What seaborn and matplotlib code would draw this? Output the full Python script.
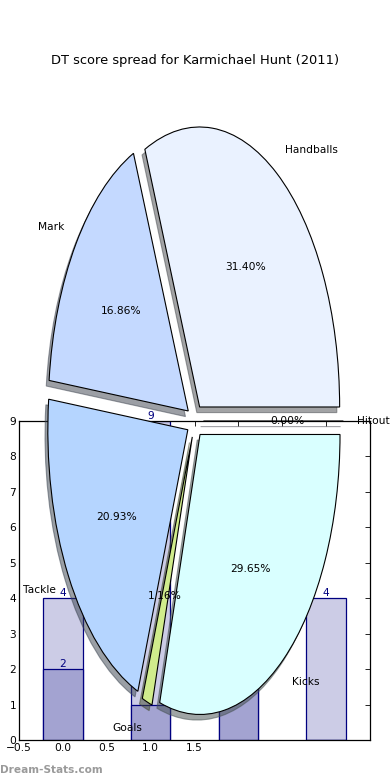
import numpy as np
import matplotlib
matplotlib.use("Agg")
import matplotlib.pyplot as plt
import seaborn as sns

# ─── Données ────────────────────────────────────────────────────────────────
pie_labels = ["Handballs", "Mark", "Tackle", "Goals", "Kicks", "Hitout"]
pie_share = [31.40, 16.86, 20.93, 1.16, 29.65, 0.00]
pie_colors = ["#eaf2ff", "#c4d9ff", "#b5d5ff", "#d0ec8c", "#d9ffff", "#e0e0ff"]

bar_pos = [0, 1, 2, 3]
bar_light = [4, 9, 3, 4]
bar_dark = [2, 1, 2, 0]
xtick_vals = [-0.5, 0.0, 0.5, 1.0, 1.5, 2.0, 2.5, 3.0, 3.5]
xtick_text = ["\u22120.5", "0.0", "0.5", "1.0", "1.5", "", "", "", ""]

DPI = 100
FS = 7.7

sns.set_style("white")
plt.rcParams.update({
    "font.family": ["DejaVu Sans"],
    "font.size": FS,
    "text.color": "black",
    "axes.labelcolor": "black",
    "xtick.color": "black",
    "ytick.color": "black",
    "axes.edgecolor": "black",
    "axes.linewidth": 0.9,
    "xtick.direction": "in",
    "ytick.direction": "in",
})

fig = plt.figure(figsize=(3.9, 7.8), dpi=DPI)

# ─── Barres ────────────────────────────────────────────────────────────────
ax = fig.add_axes([19 / 390, 40 / 780, 351 / 390, 319 / 780])
sns.barplot(x=bar_pos, y=bar_light, ax=ax, color="#cccce6",
            saturation=1, width=0.45, edgecolor="navy", linewidth=0.9)
sns.barplot(x=bar_pos, y=bar_dark, ax=ax, color="#a3a3d1",
            saturation=1, width=0.45, edgecolor="navy", linewidth=0.9)
for cont, vals in zip(ax.containers, [bar_light, bar_dark]):
    ax.bar_label(cont, labels=[str(v) if v else "" for v in vals],
                 color="navy", fontsize=FS, padding=0)

ax.set_xlim(-0.5, 3.5)
ax.set_ylim(0, 9)
ax.set_xticks(xtick_vals)
ax.set_xticklabels(xtick_text)
ax.set_yticks(range(10))
ax.tick_params(axis="both", which="both", direction="in", length=3.5,
               width=0.6, top=True, right=True, labelsize=FS, pad=2,
               colors="black")
ax.set_xlabel("")
ax.set_ylabel("")
for s in ax.spines.values():
    s.set_visible(True)
    s.set_color("black")

# ─── Camembert ───────────────────────────────────────────────────────────────
pax = fig.add_axes([(195 - 175) / 390, (359 - 350) / 780, 350 / 390, 700 / 780])
off = -0.02 * 72 / DPI
pax.pie(pie_share, labels=pie_labels, colors=pie_colors,
        explode=[0.06] * len(pie_share), autopct="%1.2f%%",
        shadow={"ox": off, "oy": off}, startangle=0,
        wedgeprops={"edgecolor": "black", "linewidth": 0.8},
        textprops={"fontsize": FS, "color": "black"})
pax.set_aspect("auto")
pax.set_xlim(-1.25, 1.25)
pax.set_ylim(-1.25, 1.25)
pax.set_axis_off()
pax.set_title("DT score spread for Karmichael Hunt (2011)", fontsize=9.4,
              pad=5, color="black")

fig.text(0.0, 10 / 780, "Dream-Stats.com", color="#9a9a9a",
         fontsize=7.6, fontweight="bold", va="center", ha="left")

fig.savefig("out.png", dpi=DPI)
